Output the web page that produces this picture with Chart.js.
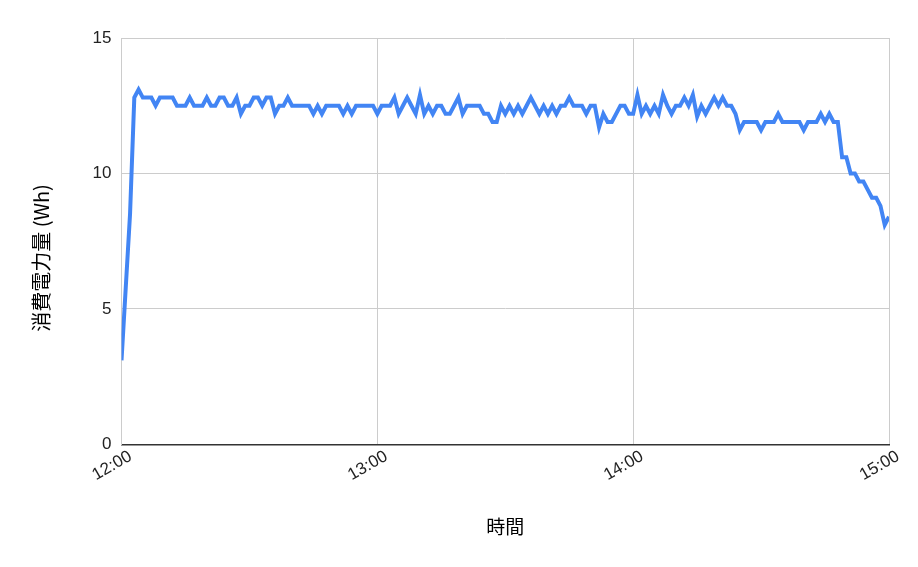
<!DOCTYPE html>
<html>
<head>
<meta charset="utf-8">
<script src="https://cdn.jsdelivr.net/npm/chart.js@4"></script>
<style>
  html, body { margin: 0; padding: 0; background: #fff; }
  #wrap { width: 918px; height: 567px; }
</style>
</head>
<body>
<div id="wrap"><canvas id="myChart" width="918" height="567"></canvas></div>
<script>
// 1分ごとの消費電力量 (Wh), 12:00 〜 15:00
const values = [
  3.1, 5.8, 8.5, 12.8, 13.1, 12.8, 12.8, 12.8, 12.5, 12.8,
  12.8, 12.8, 12.8, 12.5, 12.5, 12.5, 12.8, 12.5, 12.5, 12.5,
  12.8, 12.5, 12.5, 12.8, 12.8, 12.5, 12.5, 12.8, 12.2, 12.5,
  12.5, 12.8, 12.8, 12.5, 12.8, 12.8, 12.2, 12.5, 12.5, 12.8,
  12.5, 12.5, 12.5, 12.5, 12.5, 12.2, 12.5, 12.2, 12.5, 12.5,
  12.5, 12.5, 12.2, 12.5, 12.2, 12.5, 12.5, 12.5, 12.5, 12.5,
  12.2, 12.5, 12.5, 12.5, 12.8, 12.2, 12.5, 12.8, 12.5, 12.2,
  12.9, 12.2, 12.5, 12.2, 12.5, 12.5, 12.2, 12.2, 12.5, 12.8,
  12.2, 12.5, 12.5, 12.5, 12.5, 12.2, 12.2, 11.9, 11.9, 12.5,
  12.2, 12.5, 12.2, 12.5, 12.2, 12.5, 12.8, 12.5, 12.2, 12.5,
  12.2, 12.5, 12.2, 12.5, 12.5, 12.8, 12.5, 12.5, 12.5, 12.2,
  12.5, 12.5, 11.7, 12.2, 11.9, 11.9, 12.2, 12.5, 12.5, 12.2,
  12.2, 12.9, 12.2, 12.5, 12.2, 12.5, 12.2, 12.9, 12.5, 12.2,
  12.5, 12.5, 12.8, 12.5, 12.9, 12.1, 12.5, 12.2, 12.5, 12.8,
  12.5, 12.8, 12.5, 12.5, 12.2, 11.6, 11.9, 11.9, 11.9, 11.9,
  11.6, 11.9, 11.9, 11.9, 12.2, 11.9, 11.9, 11.9, 11.9, 11.9,
  11.6, 11.9, 11.9, 11.9, 12.2, 11.9, 12.2, 11.9, 11.9, 10.6,
  10.6, 10.0, 10.0, 9.7, 9.7, 9.4, 9.1, 9.1, 8.8, 8.1,
  8.4
];
// x軸の目盛りラベル (60分ごと)
const tickLabels = ["12:00", "13:00", "14:00", "15:00"];
const yTicks = [0, 5, 10, 15];
const yTitle = "消費電力量 (Wh)";

// 分をx座標にして点を作る
let points = values.map(function (v, i) {
  return { x: i, y: v };
});

// y軸タイトルはキャンバス中央寄りに自前で描く
const yTitlePlugin = {
  id: "yTitlePlugin",
  afterDraw: function (chart) {
    let c = chart.ctx;
    c.save();
    c.translate(41, 258);
    c.rotate(-Math.PI / 2);
    c.font = "20px 'Noto Sans CJK JP'";
    c.fillStyle = "#000";
    c.textAlign = "center";
    c.textBaseline = "middle";
    c.fillText(yTitle, 0, 0);
    c.restore();
  },
};

let ctx = document.getElementById("myChart").getContext("2d");
new Chart(ctx, {
  type: "line",
  data: {
    datasets: [
      {
        data: points,
        borderColor: "#4285f4",
        borderWidth: 4,
        pointRadius: 0,
        tension: 0,
        fill: false,
      },
    ],
  },
  plugins: [yTitlePlugin],
  options: {
    responsive: false,
    animation: false,
    layout: { padding: { top: 38, right: 29, bottom: 25, left: 25 } },
    plugins: {
      legend: { display: false },
      tooltip: { enabled: false },
    },
    scales: {
      x: {
        type: "linear",
        min: 0,
        max: 180,
        ticks: {
          stepSize: 60,
          maxRotation: 30,
          minRotation: 30,
          color: "#222",
          font: { family: "'Liberation Sans', Arial", size: 17 },
          padding: 2,
          labelOffset: 9,
          callback: function (value) {
            return tickLabels[value / 60];
          },
        },
        grid: { color: "#cccccc", drawTicks: false },
        border: { color: "#333333", width: 1.5 },
        title: {
          display: true,
          text: "時間",
          color: "#000",
          font: { family: "'Noto Sans CJK JP'", size: 19 },
          padding: { top: 28 },
        },
      },
      y: {
        min: 0,
        max: 15,
        afterBuildTicks: function (axis) {
          axis.ticks = yTicks.map(function (v) { return { value: v }; });
        },
        ticks: {
          color: "#222",
          font: { family: "'Liberation Sans', Arial", size: 17 },
          padding: 10,
        },
        grid: {
          color: function (c) {
            return c.tick && c.tick.value === 0 ? "rgba(0,0,0,0)" : "#cccccc";
          },
          drawTicks: false,
        },
        border: { color: "#cccccc" },
        title: {
          // 場所だけ確保して、文字はプラグインで描く
          display: true,
          text: yTitle,
          color: "rgba(0,0,0,0)",
          font: { family: "'Noto Sans CJK JP'", size: 18 },
          padding: { bottom: 32 },
        },
      },
    },
  },
});
</script>
</body>
</html>
